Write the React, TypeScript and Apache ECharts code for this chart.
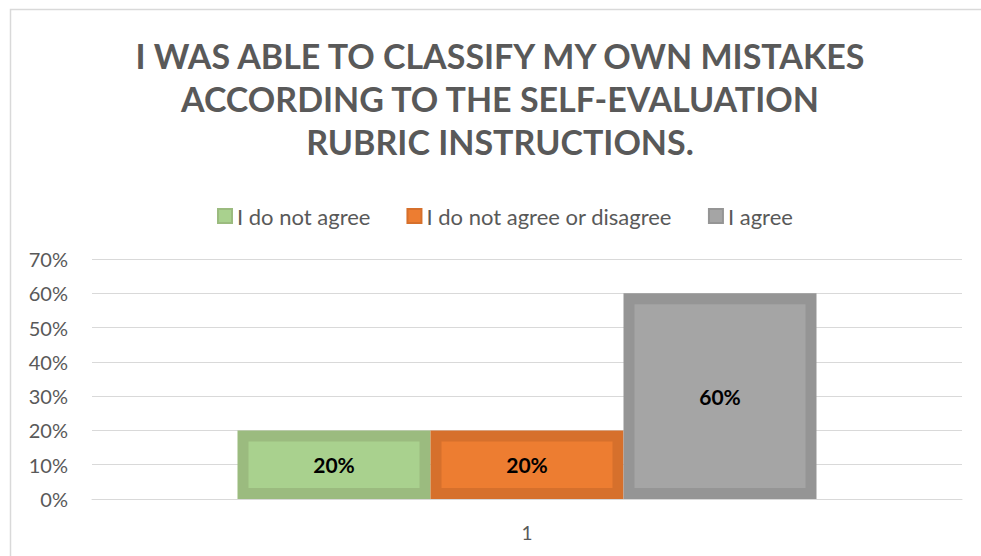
import React, { useEffect, useRef } from "react";
import * as echarts from "echarts";

const categories = ["1"];
const seriesNames = ["I do not agree", "I do not agree or disagree", "I agree"];
const seriesValues = [[0.2], [0.2], [0.6]];
const fillColors = ["#A9D18E", "#ED7D31", "#A5A5A5"];
const borderColors = ["#9BBB7F", "#D6702C", "#959595"];
const titleLines = [
  "I WAS ABLE TO CLASSIFY MY OWN MISTAKES",
  "ACCORDING TO THE SELF-EVALUATION",
  "RUBRIC INSTRUCTIONS.",
];
const yTicks = { min: 0, max: 0.7, interval: 0.1 };

const FONT = "Lato, 'Open Sans', sans-serif";

export default function App() {
  const ref = useRef<HTMLDivElement>(null);
  useEffect(() => {
    if (!ref.current) return;
    const chart = echarts.init(ref.current, null, { renderer: "svg" });
    chart.setOption({
      animation: false,
      backgroundColor: "#ffffff",
      graphic: [
        {
          type: "rect",
          shape: { x: 10.5, y: 9.5, width: 1300, height: 800 },
          style: { fill: "none", stroke: "#D9D9D9", lineWidth: 1.5 },
          silent: true,
        },
        {
          type: "text",
          x: 500,
          y: 34,
          style: {
            text: titleLines.join("\n"),
            textAlign: "center",
            fill: "#595959",
            font: `bold 34px ${FONT}`,
            lineHeight: 43,
          },
        },
      ],
      legend: {
        left: 212,
        top: 200,
        itemWidth: 14,
        itemHeight: 14,
        itemGap: 36,
        icon: "rect",
        textStyle: { color: "#595959", fontSize: 22, fontFamily: FONT },
        data: seriesNames,
      },
      grid: { left: 92, right: 19, top: 259, bottom: 57, containLabel: false },
      xAxis: {
        type: "category",
        data: categories,
        axisLine: { show: true, lineStyle: { color: "#D9D9D9", width: 1 } },
        axisTick: { show: false },
        axisLabel: { color: "#595959", fontSize: 19, fontFamily: FONT, margin: 24 },
      },
      yAxis: {
        type: "value",
        min: yTicks.min,
        max: yTicks.max,
        interval: yTicks.interval,
        axisLine: { show: false },
        axisTick: { show: false },
        splitLine: { lineStyle: { color: "#D9D9D9", width: 1 } },
        axisLabel: {
          color: "#595959",
          fontSize: 20,
          fontFamily: FONT,
          margin: 24,
          formatter: (v: number) => `${Math.round(v * 100)}%`,
        },
      },
      series: seriesNames.map((name, i) => ({
        name,
        type: "bar",
        data: seriesValues[i],
        barWidth: 193,
        barGap: "0%",
        itemStyle: {
          color: fillColors[i],
          borderColor: borderColors[i],
          borderWidth: 11,
        },
        label: {
          show: true,
          position: "inside",
          color: "#000000",
          fontWeight: "bold",
          fontSize: 21,
          fontFamily: FONT,
          formatter: (p: any) => `${Math.round(p.value * 100)}%`,
        },
      })),
    });
    return () => chart.dispose();
  }, []);
  return (
    <div
      ref={ref}
      style={{ position: "absolute", left: 0, top: 0, width: 981, height: 556 }}
    />
  );
}
